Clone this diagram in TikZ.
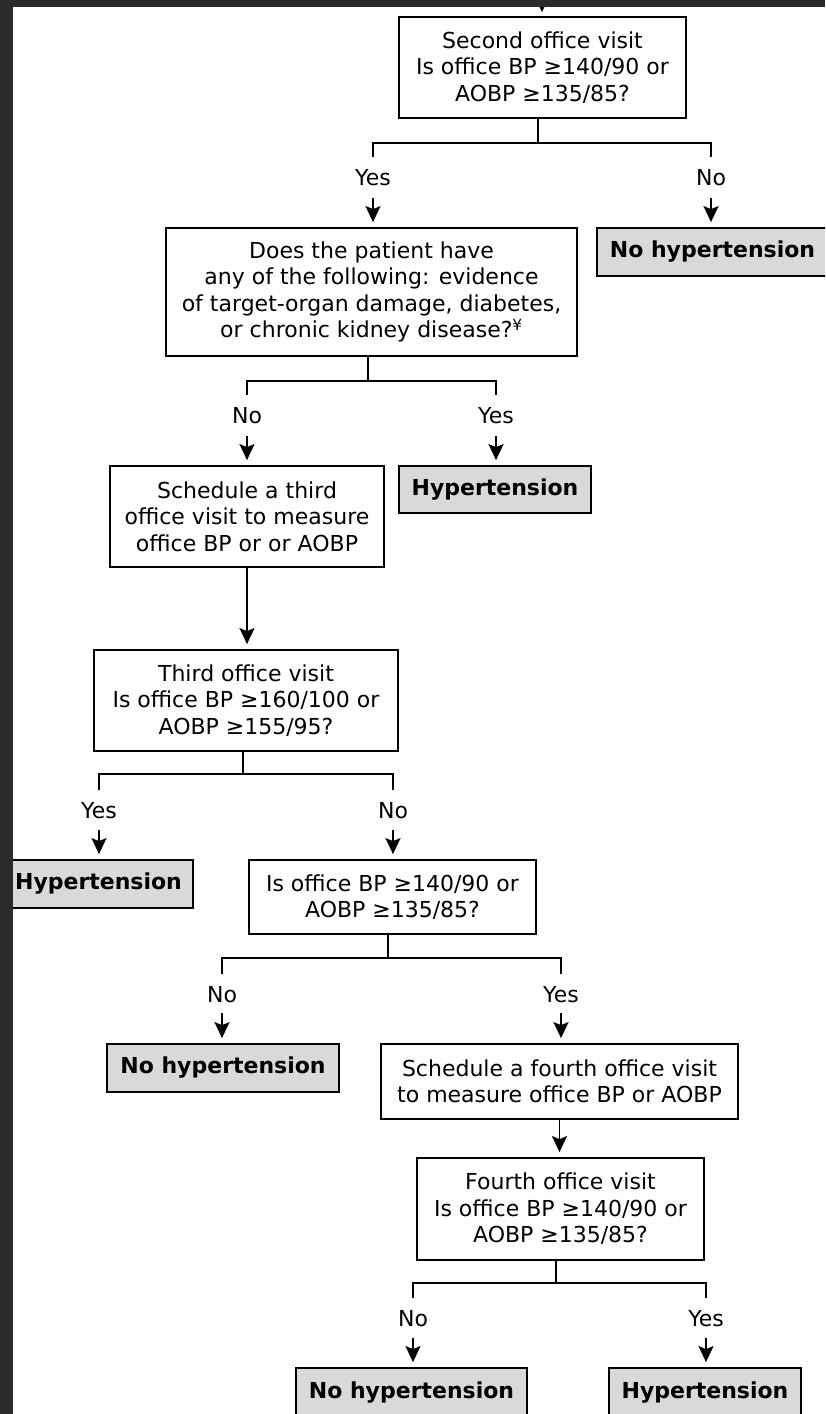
\documentclass[tikz,border=0pt]{standalone}
\usepackage{fontspec}
\setmainfont{DejaVu Sans}
\usetikzlibrary{arrows.meta}
\definecolor{darkbg}{HTML}{2B2B2B}
\definecolor{termgray}{HTML}{D9D9D9}
\newcommand\fs{\fontsize{22}{26.5}\selectfont}
\tikzset{
  box/.style={draw, line width=1.8pt, fill=white, align=center, inner sep=0pt, font=\fs},
  term/.style={box, fill=termgray, font=\fs\bfseries},
  lab/.style={inner sep=0pt, text height=16pt, text depth=0pt, font=\fs},
  ln/.style={line width=1.8pt},
  arr/.style={line width=1.8pt, -{Stealth[length=16pt,width=15pt,inset=3pt]}},
}
\begin{document}
\begin{tikzpicture}[x=1pt,y=-1pt]
\clip (0,0) rectangle (825,1414);
\fill[white] (0,0) rectangle (825,1414);

% boxes
\node[box, minimum width=287pt, minimum height=101pt] (q1) at (542.5,67.5) {Second office visit\\Is office BP ≥140/90 or\\AOBP ≥135/85?};
\node[term, minimum width=231pt, minimum height=48pt] (nh1) at (712.5,252) {No hypertension};
\node[box, minimum width=411pt, minimum height=128pt] (q2) at (371.5,292) {Does the patient have\\any of the following: evidence\\of target-organ damage, diabetes,\\or chronic kidney disease?\textsuperscript{¥}};
\node[box, minimum width=274pt, minimum height=101pt] (s3) at (247,516.5) {Schedule a third\\office visit to measure\\office BP or or AOBP};
\node[term, minimum width=192pt, minimum height=47pt] (h1) at (495,489.5) {Hypertension};
\node[box, minimum width=304pt, minimum height=101pt] (q3) at (246,700.5) {Third office visit\\Is office BP ≥160/100 or\\AOBP ≥155/95?};
\node[term, minimum width=189pt, minimum height=48pt] (h2) at (98.5,884) {Hypertension};
\node[box, minimum width=287pt, minimum height=74pt] (q4) at (392.5,897) {Is office BP ≥140/90 or\\AOBP ≥135/85?};
\node[term, minimum width=232pt, minimum height=48pt] (nh2) at (223,1068) {No hypertension};
\node[box, minimum width=357pt, minimum height=75pt] (s4) at (559.5,1081.5) {Schedule a fourth office visit\\to measure office BP or AOBP};
\node[box, minimum width=287pt, minimum height=102pt] (q5) at (560.5,1209) {Fourth office visit\\Is office BP ≥140/90 or\\AOBP ≥135/85?};
\node[term, minimum width=231pt, minimum height=48pt] (nh3) at (411.5,1392) {No hypertension};
\node[term, minimum width=192pt, minimum height=48pt] (h3) at (705,1392) {Hypertension};

% labels
\node[lab] (y1) at (373,177) {Yes};
\node[lab] (n1) at (711,177) {No};
\node[lab] (n2) at (247,415) {No};
\node[lab] (y2) at (496,415) {Yes};
\node[lab] (y3) at (99,810) {Yes};
\node[lab] (n3) at (393,810) {No};
\node[lab] (n4) at (222,994) {No};
\node[lab] (y4) at (561,994) {Yes};
\node[lab] (n5) at (413,1318) {No};
\node[lab] (y5) at (706,1318) {Yes};

% junctions
\coordinate (j1) at (538,143);
\coordinate (j2) at (368,381);
\coordinate (j3) at (243,774);
\coordinate (j4) at (388,958);
\coordinate (j5) at (556,1283);
\coordinate (top) at (542,-30);

% incoming arrow at top
\draw[arr, shorten >=4pt] (top) -- (q1.north -| top);

% branch 1
\draw[ln] (q1.south -| j1) -- (j1);
\draw[ln, shorten >=20pt] (j1) -| (y1.center);
\draw[ln, shorten >=20pt] (j1) -| (n1.center);
\draw[arr, shorten <=21pt, shorten >=5pt] (y1.center) -- (q2.north -| y1.center);
\draw[arr, shorten <=21pt, shorten >=5pt] (n1.center) -- (nh1.north -| n1.center);

% branch 2
\draw[ln] (q2.south -| j2) -- (j2);
\draw[ln, shorten >=20pt] (j2) -| (n2.center);
\draw[ln, shorten >=20pt] (j2) -| (y2.center);
\draw[arr, shorten <=21pt, shorten >=5pt] (n2.center) -- (s3.north -| n2.center);
\draw[arr, shorten <=21pt, shorten >=5pt] (y2.center) -- (h1.north -| y2.center);

% schedule third -> third visit
\draw[arr, shorten >=5pt] (s3.south) -- (q3.north -| s3.south);

% branch 3
\draw[ln] (q3.south -| j3) -- (j3);
\draw[ln, shorten >=20pt] (j3) -| (y3.center);
\draw[ln, shorten >=20pt] (j3) -| (n3.center);
\draw[arr, shorten <=20pt, shorten >=5pt] (y3.center) -- (h2.north -| y3.center);
\draw[arr, shorten <=20pt, shorten >=5pt] (n3.center) -- (q4.north -| n3.center);

% branch 4
\draw[ln] (q4.south -| j4) -- (j4);
\draw[ln, shorten >=20pt] (j4) -| (n4.center);
\draw[ln, shorten >=20pt] (j4) -| (y4.center);
\draw[arr, shorten <=19pt, shorten >=5pt] (n4.center) -- (nh2.north -| n4.center);
\draw[arr, shorten <=19pt, shorten >=5pt] (y4.center) -- (s4.north -| y4.center);

% schedule fourth -> fourth visit
\draw[arr, shorten >=5pt] (s4.south) -- (q5.north -| s4.south);

% branch 5
\draw[ln] (q5.south -| j5) -- (j5);
\draw[ln, shorten >=20pt] (j5) -| (n5.center);
\draw[ln, shorten >=20pt] (j5) -| (y5.center);
\draw[arr, shorten <=20pt, shorten >=5pt] (n5.center) -- (nh3.north -| n5.center);
\draw[arr, shorten <=20pt, shorten >=5pt] (y5.center) -- (h3.north -| y5.center);

% dark frame bands
\fill[darkbg] (0,0) rectangle (825,7);
\fill[darkbg] (0,0) rectangle (13,1414);
\end{tikzpicture}
\end{document}
